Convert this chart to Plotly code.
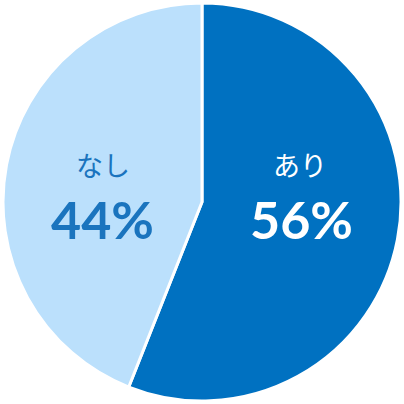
import plotly.graph_objects as go

labels = ["あり", "なし"]
values = [56, 44]
colors = ["#0071C1", "#BBE0FC"]
text_colors = ["#FFFFFF", "#1A74BE"]

fig = go.Figure(go.Pie(
    labels=labels,
    values=values,
    sort=False,
    direction="clockwise",
    rotation=0,
    marker=dict(colors=colors, line=dict(color="#FFFFFF", width=3)),
    textinfo="none",
    hoverinfo="label+percent",
    domain=dict(x=[0, 1], y=[0, 1]),
    showlegend=False,
))

# label positions (paper coords) for each slice
label_pos = [(0.745, 0.595), (0.252, 0.595)]
pct_pos = [(0.750, 0.458), (0.250, 0.458)]

for lab, val, col, lp, pp in zip(labels, values, text_colors, label_pos, pct_pos):
    fig.add_annotation(x=lp[0], y=lp[1], xref="paper", yref="paper", text=lab,
                       showarrow=False, xanchor="center", yanchor="middle",
                       font=dict(family="Noto Sans CJK JP", size=27, color=col))
    fig.add_annotation(x=pp[0], y=pp[1], xref="paper", yref="paper", text="<b>%d%%</b>" % val,
                       showarrow=False, xanchor="center", yanchor="middle",
                       font=dict(family="Lato", size=52, color=col))

fig.update_layout(
    width=404, height=404,
    margin=dict(l=3, r=3, t=3, b=3),
    paper_bgcolor="#FFFFFF",
    plot_bgcolor="#FFFFFF",
)

fig.write_html("out.html", config={"displayModeBar": False},
               post_script="document.body.style.margin='0';")
